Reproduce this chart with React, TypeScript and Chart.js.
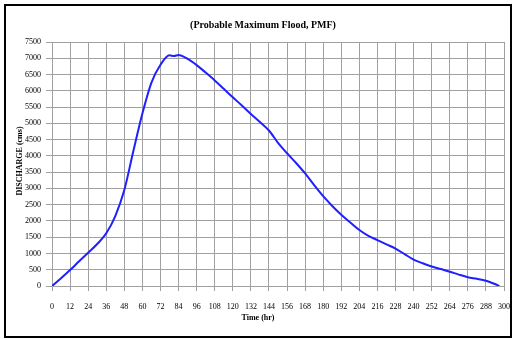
import React, { useEffect, useRef } from "react";
import { Chart, registerables } from "chart.js";

Chart.register(...registerables);

const chartTitle = "(Probable Maximum Flood, PMF)";
const xTitle = "Time (hr)";
const yTitle = "DISCHARGE (cms)";

const times = [0, 6, 12, 18, 24, 30, 36, 42, 48, 54, 60, 66, 72, 78, 81, 84, 90, 96, 102, 108, 114, 120, 126, 132, 138, 144, 150, 156, 162, 168, 174, 180, 186, 192, 198, 204, 210, 216, 222, 228, 234, 240, 246, 252, 258, 264, 270, 276, 282, 288, 294, 297];
const discharge = [0, 240, 490, 760, 1020, 1290, 1620, 2150, 2950, 4150, 5300, 6250, 6800, 7090, 7070, 7100, 6980, 6790, 6560, 6320, 6060, 5800, 5550, 5290, 5040, 4780, 4400, 4080, 3780, 3460, 3100, 2760, 2460, 2190, 1950, 1720, 1540, 1410, 1280, 1150, 980, 810, 700, 600, 520, 440, 350, 270, 220, 160, 60, 0];

const FONT = "'Liberation Serif', 'Times New Roman', serif";

export default function App() {
  const ref = useRef<HTMLCanvasElement | null>(null);

  useEffect(() => {
    if (!ref.current) return;
    const titlesPlugin = {
      id: "customTitles",
      afterDraw(chart: any) {
        const ctx = chart.ctx;
        ctx.save();
        ctx.fillStyle = "#000";
        ctx.textAlign = "center";
        ctx.textBaseline = "middle";
        ctx.font = `bold 10px ${FONT}`;
        ctx.fillText(chartTitle, 263, 25);
        ctx.font = `bold 8px ${FONT}`;
        ctx.fillText(xTitle, 258, 318);
        ctx.translate(20, 161);
        ctx.rotate(-Math.PI / 2);
        ctx.fillText(yTitle, 0, 0);
        ctx.restore();
      },
    };
    const chart = new Chart(ref.current, {
      type: "line",
      data: {
        datasets: [
          {
            data: times.map((t, i) => ({ x: t, y: discharge[i] })),
            borderColor: "#1f1fff",
            borderWidth: 2,
            pointRadius: 0,
            fill: false,
            cubicInterpolationMode: "monotone",
          },
        ],
      },
      options: {
        animation: false,
        responsive: false,
        maintainAspectRatio: false,
        layout: { padding: { left: 0, right: 9, top: 42, bottom: 0 } },
        plugins: {
          legend: { display: false },
          title: { display: false },
          tooltip: { enabled: false },
        },
        scales: {
          x: {
            type: "linear",
            min: 0,
            max: 300,
            afterFit: (s: any) => {
              s.height = 54;
              s.paddingLeft = 0;
              s.paddingRight = 0;
            },
            ticks: {
              stepSize: 12,
              autoSkip: false,
              maxRotation: 0,
              padding: 11,
              color: "#000",
              font: { family: FONT, size: 8 },
            },
            grid: { color: "#a0a0a0", lineWidth: 1, tickLength: 5 },
            border: { color: "#a0a0a0" },
          },
          y: {
            min: 0,
            max: 7500,
            afterFit: (s: any) => {
              s.width = 52;
            },
            ticks: {
              stepSize: 500,
              autoSkip: false,
              padding: 5,
              color: "#000",
              font: { family: FONT, size: 8 },
              callback: (v: any) => String(v),
            },
            grid: { color: "#a0a0a0", lineWidth: 1, tickLength: 6 },
            border: { color: "#a0a0a0" },
          },
        },
      },
      plugins: [titlesPlugin],
    } as any);
    return () => chart.destroy();
  }, []);

  return (
    <div style={{ position: "fixed", left: 0, top: 0, width: 513, height: 340, background: "#fff" }}>
      <canvas ref={ref} width={513} height={340} style={{ display: "block" }} />
      <div
        style={{
          position: "absolute",
          left: 4,
          top: 4,
          width: 508,
          height: 334,
          boxSizing: "border-box",
          border: "2px solid #000",
          pointerEvents: "none",
        }}
      />
    </div>
  );
}
